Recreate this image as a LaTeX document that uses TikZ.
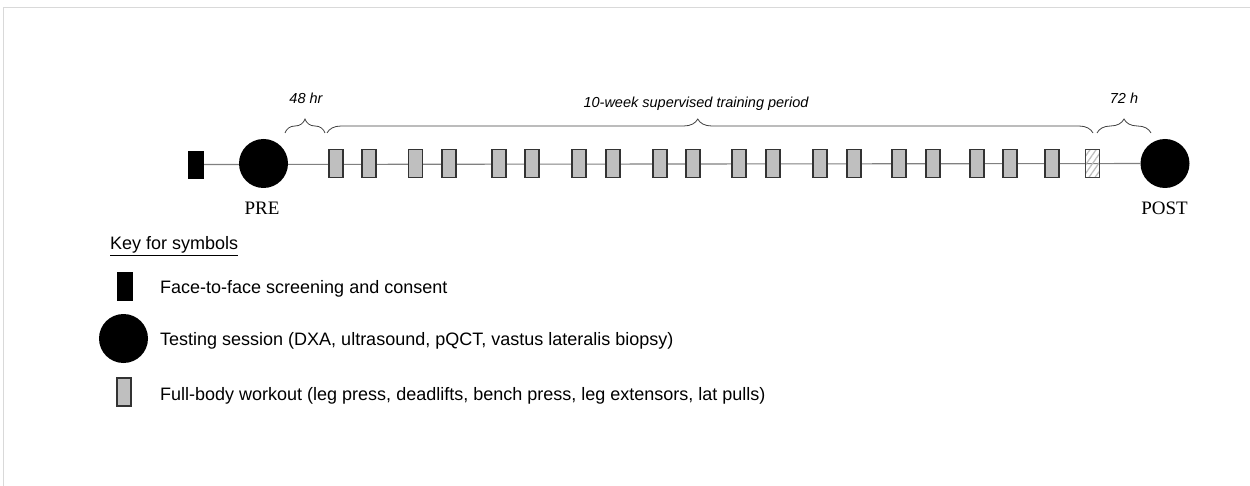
\documentclass[tikz,border=0pt]{standalone}
\usepackage{fontspec}
\setmainfont{Liberation Sans}
\newfontfamily\timesface{Liberation Serif}
\usepackage{tikz}
\usetikzlibrary{backgrounds,decorations.pathreplacing,patterns.meta}

\begin{document}
\begin{tikzpicture}[
  x=1pt, y=-1pt,
  screenbox/.style={draw=black, fill=black, minimum width=15pt, minimum height=27pt, inner sep=0pt},
  testing/.style={circle, fill=black, minimum size=49pt, inner sep=0pt},
  workout/.style={draw=black!80, line width=1.1pt, fill=black!25, minimum width=14pt, minimum height=28pt, inner sep=0pt},
  lastworkout/.style={draw=black!75, line width=1.1pt, minimum width=14pt, minimum height=28pt, inner sep=0pt,
    pattern={Lines[angle=55, distance=5pt, line width=1.3pt]}, pattern color=black!25},
  timeline/.style={draw=black!50, line width=1.1pt},
  period/.style={decorate, decoration={brace, amplitude=14pt}, draw=black!75, line width=0.8pt},
  lbl/.style={font=\fontsize{14.5}{17}\selectfont\itshape, anchor=base, inner sep=0pt},
  visit/.style={font=\timesface\fontsize{19}{22}\selectfont, anchor=base, inner sep=0pt},
  keytext/.style={font=\fontsize{18}{22}\selectfont, anchor=base west, inner sep=0pt}
]
  \useasboundingbox (0,0) rectangle (1250,486);
  \draw[black!15] (3,486) -- (3,7) -- (1250,7);

  % timeline
  \node[screenbox] (screen) at (196,164.5) {};
  \node[testing] (pre) at (263.5,163.5) {};
  \node[testing] (post) at (1165,163.5) {};
  \foreach \x [count=\i] in {336,369,415.5,449,499,532,579,613,660,693,739,773,820,854,899,933,977,1010,1052}
    \node[workout] (w\i) at (\x,163.5) {};
  \node[lastworkout] (w20) at (1092.5,163.5) {};
  \begin{scope}[on background layer]
    \draw[timeline] (screen) -- (post);
  \end{scope}

  \node[visit] (prelbl) at (262,215) {PRE};
  \node[visit] (postlbl) at (1164.5,215) {POST};

  % braces
  \coordinate (b1) at (285,133);
  \coordinate (b2) at (325,133);
  \coordinate (b3) at (327,133);
  \coordinate (b4) at (1093,133);
  \coordinate (b5) at (1097,133);
  \coordinate (b6) at (1151,133);
  \draw[period] (b1) -- (b2);
  \draw[period, decoration={aspect=0.484}] (b3) -- (b4);
  \draw[period] (b5) -- (b6);
  \node[lbl] (gap1) at (306,103.5) {48 hr};
  \node[lbl] (train) at (696,108) {10-week supervised training period};
  \node[lbl] (gap2) at (1124,103.5) {72 h};

  % key
  \node[keytext] (keyhead) at (110,250) {\underline{Key for symbols}};
  \node[screenbox, minimum height=28pt] (k1) at (124.5,286) {};
  \node[testing] (k2) at (123.5,338.5) {};
  \node[workout] (k3) at (124,392) {};
  \node[keytext] (t1) at (160,294) {Face-to-face screening and consent};
  \node[keytext] (t2) at (160,345) {Testing session (DXA, ultrasound, pQCT, vastus lateralis biopsy)};
  \node[keytext] (t3) at (160,400) {Full-body workout (leg press, deadlifts, bench press, leg extensors, lat pulls)};
\end{tikzpicture}
\end{document}
